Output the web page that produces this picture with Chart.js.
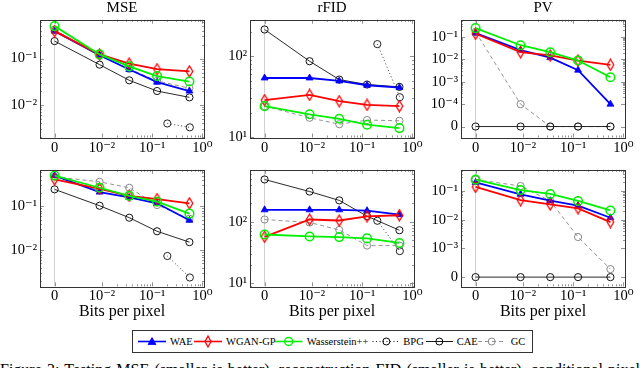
<!DOCTYPE html>
<html><head><meta charset="utf-8">
<script src="https://cdn.jsdelivr.net/npm/chart.js@4.4.0/dist/chart.umd.min.js"></script>
<style>
html,body{margin:0;padding:0;background:#fff;width:640px;height:368px;overflow:hidden;position:relative;font-family:"Liberation Serif","DejaVu Serif",serif;}
canvas{position:absolute;}
#legend{position:absolute;left:132px;top:330px;font-family:"Liberation Serif","DejaVu Serif",serif;font-size:10.5px;}
#caption{position:absolute;left:0;top:362px;width:640px;font-size:16px;line-height:16px;white-space:nowrap;text-align:justify;text-align-last:justify;color:#000;}
</style></head><body>
<canvas id="c0" width="216" height="158" style="left:0px;top:0px"></canvas>
<canvas id="c1" width="216" height="158" style="left:210px;top:0px"></canvas>
<canvas id="c2" width="216" height="158" style="left:421px;top:0px"></canvas>
<canvas id="c3" width="216" height="158" style="left:0px;top:163px"></canvas>
<canvas id="c4" width="216" height="158" style="left:210px;top:163px"></canvas>
<canvas id="c5" width="216" height="158" style="left:421px;top:163px"></canvas>
<svg id="legend" width="403" height="24" xmlns="http://www.w3.org/2000/svg">
  <rect x="0.5" y="0.5" width="400" height="22" fill="#fff" stroke="#333" stroke-width="1"/>
  <line x1="6" y1="11.5" x2="34" y2="11.5" stroke="#0000ff" stroke-width="1.6"/>
  <polygon points="20,7.5 24,14.5 16,14.5" fill="#0000ff" stroke="#0000ff" stroke-width="0.8"/>
  <text x="38" y="15">WAE</text>
  <line x1="62" y1="11.5" x2="90" y2="11.5" stroke="#ff0000" stroke-width="1.6"/>
  <polygon points="76,6 79,11.5 76,17 73,11.5" fill="none" stroke="#ff0000" stroke-width="1.3"/>
  <text x="94" y="15">WGAN-GP</text>
  <line x1="143" y1="11.5" x2="170.5" y2="11.5" stroke="#00f000" stroke-width="1.6"/>
  <circle cx="156.7" cy="11.5" r="4" fill="none" stroke="#00f000" stroke-width="1.4"/>
  <text x="174.7" y="15">Wasserstein++</text>
  <line x1="240.5" y1="11.5" x2="268" y2="11.5" stroke="#000" stroke-width="0.9" stroke-dasharray="1,2.5"/>
  <circle cx="254.3" cy="11.5" r="3.5" fill="none" stroke="#000" stroke-width="1"/>
  <text x="271.3" y="15">BPG</text>
  <line x1="294" y1="11.5" x2="321" y2="11.5" stroke="#000" stroke-width="0.9"/>
  <circle cx="307.3" cy="11.5" r="3.5" fill="none" stroke="#000" stroke-width="1"/>
  <text x="324.7" y="15">CAE</text>
  <line x1="346" y1="11.5" x2="373" y2="11.5" stroke="#888" stroke-width="0.9" stroke-dasharray="4,3"/>
  <circle cx="359.7" cy="11.5" r="3.5" fill="none" stroke="#888" stroke-width="1"/>
  <text x="378.7" y="15">GC</text>
</svg>
<div id="caption">Figure 3: Testing MSE (smaller is better), reconstruction FID (smaller is better), conditional pixel</div>
<script>
// ---------------- DATA ----------------
const bpp = [0, 0.009, 0.035, 0.125, 0.55];
const bppBPG = [0.2, 0.56];
const xTickValues = [0, 0.01, 0.1, 1];
const xTickLabels = ['0', '10⁻²', '10⁻¹', '10⁰'];

const titles = ['MSE', 'rFID', 'PV'];
const xAxisTitle = 'Bits per pixel';

const mseTicks = [0.01, 0.1];
const mseTickLabels = ['10⁻²', '10⁻¹'];
const fidTicks = [10, 100];
const fidTickLabels = ['10¹', '10²'];
const pvTopTicks = [0, 1e-4, 1e-3, 1e-2, 1e-1];
const pvTopTickLabels = ['0', '10⁻⁴', '10⁻³', '10⁻²', '10⁻¹'];
const pvBottomTicks = [0, 1e-3, 1e-2, 1e-1];
const pvBottomTickLabels = ['0', '10⁻³', '10⁻²', '10⁻¹'];

// top row
const mseTopWAE  = [0.39, 0.118, 0.058, 0.031, 0.020];
const mseTopWGAN = [0.39, 0.123, 0.078, 0.059, 0.053];
const mseTopWpp  = [0.50, 0.123, 0.068, 0.042, 0.032];
const mseTopCAE  = [0.238, 0.074, 0.034, 0.020, 0.0146];
const mseTopGC   = [0.42, 0.115, 0.060, 0.033, 0.023];
const mseTopBPG  = [0.0040, 0.0033];

const fidTopWAE  = [53.8, 53.8, 49.4, 43.7, 40.9];
const fidTopWGAN = [28.5, 33.1, 27.7, 24.9, 24.0];
const fidTopWpp  = [24.0, 19.0, 16.7, 14.1, 12.8];
const fidTopCAE  = [216, 87, 51.4, 44.6, 41.7];
const fidTopGC   = [24.0, 17.2, 14.3, 16.1, 15.8];
const fidTopBPG  = [142, 31.0];

const pvTopWAE  = [0.15, 0.026, 0.012, 0.0033, 0.0001];
const pvTopWGAN = [0.14, 0.021, 0.015, 0.0089, 0.0057];
const pvTopWpp  = [0.25, 0.043, 0.021, 0.0089, 0.0016];
const pvTopCAE  = [0, 0, 0, 0, 0];
const pvTopGC   = [0.17, 0.0001, 0, 0, 0];
const pvTopBPG  = [];

// bottom row
const mseBotWAE  = [0.50, 0.21, 0.159, 0.117, 0.048];
const mseBotWGAN = [0.41, 0.25, 0.173, 0.146, 0.117];
const mseBotWpp  = [0.50, 0.264, 0.173, 0.127, 0.068];
const mseBotCAE  = [0.243, 0.103, 0.055, 0.027, 0.0153];
const mseBotGC   = [0.47, 0.36, 0.264, 0.107, 0.052];
const mseBotBPG  = [0.0074, 0.0024];

const fidBotWAE  = [157, 157, 157, 152, 131];
const fidBotWGAN = [56.9, 109, 105, 123, 128];
const fidBotWpp  = [62, 57.6, 56.2, 53.6, 45.1];
const fidBotCAE  = [492, 312, 224, 123.5, 72.8];
const fidBotGC   = [109, 97.6, 73.6, 40.9, 40.9];
const fidBotBPG  = [104, 33.2];

const pvBotWAE  = [0.20, 0.077, 0.046, 0.031, 0.0117];
const pvBotWGAN = [0.14, 0.048, 0.034, 0.025, 0.0083];
const pvBotWpp  = [0.25, 0.108, 0.079, 0.045, 0.021];
const pvBotCAE  = [0, 0, 0, 0, 0];
const pvBotGC   = [0.25, 0.15, 0.045, 0.0025, 0.00019];
const pvBotBPG  = [];

// ---------------- RENDERING ----------------
Chart.defaults.font.family = '"Liberation Serif","DejaVu Serif",serif';
Chart.defaults.color = '#000';

// symmetric-log style transform: 0 is placed at a fixed position, positive values on log10
const X_ZERO = -2.94;
const tx = v => v === 0 ? X_ZERO : Math.log10(v);
const ty = (v, zero) => v === 0 ? zero : Math.log10(v);

function diamondCanvas(color){
  const c = document.createElement('canvas'); c.width = 9; c.height = 13;
  const g = c.getContext('2d'); g.strokeStyle = color; g.lineWidth = 1.3;
  g.beginPath(); g.moveTo(4.5,1); g.lineTo(7.8,6.5); g.lineTo(4.5,12); g.lineTo(1.2,6.5); g.closePath(); g.stroke();
  return c;
}
const redDiamond = diamondCanvas('#ff0000');

const styles = {
  WAE:  {label:'WAE', borderColor:'#0000ff', backgroundColor:'#0000ff', borderWidth:1.8, pointStyle:'triangle', pointRadius:4, pointBorderWidth:0.8, order:2},
  WGAN: {label:'WGAN-GP', borderColor:'#ff0000', backgroundColor:'#ff0000', borderWidth:1.8, pointStyle:redDiamond, pointRadius:5, order:1},
  Wpp:  {label:'Wasserstein++', borderColor:'#00f000', backgroundColor:'rgba(0,0,0,0)', borderWidth:1.8, pointStyle:'circle', pointRadius:4.3, pointBorderWidth:1.5, order:0},
  BPG:  {label:'BPG', borderColor:'#222', backgroundColor:'rgba(0,0,0,0)', borderWidth:0.9, borderDash:[1,2.5], pointStyle:'circle', pointRadius:3.6, pointBorderWidth:1, order:4},
  CAE:  {label:'CAE', borderColor:'#111', backgroundColor:'rgba(0,0,0,0)', borderWidth:0.9, pointStyle:'circle', pointRadius:3.6, pointBorderWidth:1, order:3},
  GC:   {label:'GC', borderColor:'#888', backgroundColor:'rgba(0,0,0,0)', borderWidth:0.9, borderDash:[4,3], pointStyle:'circle', pointRadius:3.6, pointBorderWidth:1, order:5}
};

function makeSet(key, xs, ys, zero){
  return Object.assign({}, styles[key], {
    data: ys.map((v,i) => ({x: tx(xs[i]), y: ty(v, zero)})),
    tension: 0, fill: false
  });
}

const panels = [
  {id:'c0', title:titles[0], bottom:false, ticks:mseTicks, labels:mseTickLabels, yMin:-2.70, yMax:-0.165, zero:null,
   s:{WAE:mseTopWAE, WGAN:mseTopWGAN, Wpp:mseTopWpp, BPG:mseTopBPG, CAE:mseTopCAE, GC:mseTopGC}},
  {id:'c1', title:titles[1], bottom:false, ticks:fidTicks, labels:fidTickLabels, yMin:0.99, yMax:2.455, zero:null,
   s:{WAE:fidTopWAE, WGAN:fidTopWGAN, Wpp:fidTopWpp, BPG:fidTopBPG, CAE:fidTopCAE, GC:fidTopGC}},
  {id:'c2', title:titles[2], bottom:false, ticks:pvTopTicks, labels:pvTopTickLabels, yMin:-5.49, yMax:-0.23, zero:-5,
   s:{WAE:pvTopWAE, WGAN:pvTopWGAN, Wpp:pvTopWpp, BPG:pvTopBPG, CAE:pvTopCAE, GC:pvTopGC}},
  {id:'c3', title:null, bottom:true, ticks:mseTicks, labels:mseTickLabels, yMin:-2.82, yMax:-0.17, zero:null,
   s:{WAE:mseBotWAE, WGAN:mseBotWGAN, Wpp:mseBotWpp, BPG:mseBotBPG, CAE:mseBotCAE, GC:mseBotGC}},
  {id:'c4', title:null, bottom:true, ticks:fidTicks, labels:fidTickLabels, yMin:0.946, yMax:2.85, zero:null,
   s:{WAE:fidBotWAE, WGAN:fidBotWGAN, Wpp:fidBotWpp, BPG:fidBotBPG, CAE:fidBotCAE, GC:fidBotGC}},
  {id:'c5', title:null, bottom:true, ticks:pvBottomTicks, labels:pvBottomTickLabels, yMin:-4.32, yMax:-0.26, zero:-4,
   s:{WAE:pvBotWAE, WGAN:pvBotWGAN, Wpp:pvBotWpp, BPG:pvBotBPG, CAE:pvBotCAE, GC:pvBotGC}}
];

const frame = {
  id: 'frame',
  afterDatasetsDraw(chart, args, o){
    const {ctx, chartArea:a, scales:{x, y}} = chart;
    ctx.save();
    ctx.strokeStyle = '#777'; ctx.lineWidth = 0.8;
    const vt = (v, len) => { if (v <= x.min || v >= x.max) return; const p = Math.round(x.getPixelForValue(v)) + 0.5;
      ctx.beginPath(); ctx.moveTo(p, a.top); ctx.lineTo(p, a.top + len); ctx.moveTo(p, a.bottom); ctx.lineTo(p, a.bottom - len); ctx.stroke(); };
    const ht = (v, len) => { if (v <= y.min || v >= y.max) return; const p = Math.round(y.getPixelForValue(v)) + 0.5;
      ctx.beginPath(); ctx.moveTo(a.left, p); ctx.lineTo(a.left + len, p); ctx.moveTo(a.right, p); ctx.lineTo(a.right - len, p); ctx.stroke(); };
    x.ticks.forEach(t => vt(t.value, 4));
    for (let n = -2; n <= -1; n++) for (let k = 2; k <= 9; k++) vt(n + Math.log10(k), 2);
    y.ticks.forEach(t => ht(t.value, 4));
    const lowest = o.zero === null ? -Infinity : o.zero + 1;
    for (let n = Math.floor(y.min); n <= Math.ceil(y.max); n++) for (let k = 2; k <= 9; k++) {
      const v = n + Math.log10(k); if (v > lowest) ht(v, 2);
    }
    ctx.strokeStyle = '#333'; ctx.lineWidth = 1;
    ctx.strokeRect(Math.round(a.left) + 0.5, Math.round(a.top) + 0.5, Math.round(a.right - a.left), Math.round(a.bottom - a.top));
    ctx.restore();
  }
};

panels.forEach(P => {
  const datasets = [];
  ['WAE','WGAN','Wpp','BPG','CAE','GC'].forEach(k => {
    const xs = k === 'BPG' ? bppBPG : bpp;
    if (P.s[k].length) datasets.push(makeSet(k, xs, P.s[k], P.zero));
  });
  new Chart(document.getElementById(P.id), {
    type: 'line',
    data: { datasets },
    plugins: [frame],
    options: {
      responsive: false, animation: false, devicePixelRatio: 1, events: [],
      layout: { padding: { top: P.bottom ? 4 : 0, right: 12, left: 0, bottom: 0 } },
      plugins: {
        legend: { display: false }, tooltip: { enabled: false },
        title: P.title ? { display: true, text: P.title, fullSize: false, font: { size: 15, weight: 'normal', lineHeight: 1 }, padding: { top: 0.3, bottom: 4.5 } } : { display: false },
        frame: { zero: P.zero }
      },
      scales: {
        x: {
          type: 'linear', min: -3.23, max: 0.03,
          afterBuildTicks: s => { s.ticks = xTickValues.map(v => ({ value: tx(v) })); },
          afterFit: s => { s.height = P.bottom ? 34.7 : 20.5; s.paddingLeft = 0; s.paddingRight = 0; },
          ticks: { callback: (v, i) => xTickLabels[i], autoSkip: false, maxRotation: 0, minRotation: 0, padding: 1.5, font: { size: 14.5 } },
          grid: { drawTicks: false, color: c => (c.tick && Math.abs(c.tick.value - X_ZERO) < 1e-6) ? '#d0d0d0' : 'rgba(0,0,0,0)', lineWidth: 1 },
          border: { display: false },
          title: P.bottom ? { display: true, text: xAxisTitle, font: { size: 16, lineHeight: 1.2 }, padding: 0 } : { display: false }
        },
        y: {
          type: 'linear', min: P.yMin, max: P.yMax,
          afterBuildTicks: s => { s.ticks = P.ticks.map(v => ({ value: ty(v, P.zero) })); },
          afterFit: s => { s.width = 40; s.paddingTop = 0; s.paddingBottom = 0; },
          ticks: { callback: (v, i) => P.labels[i], autoSkip: false, padding: 3, font: { size: 14.5 } },
          grid: { display: false, drawTicks: false },
          border: { display: false }
        }
      }
    }
  });
});
</script>
</body></html>
